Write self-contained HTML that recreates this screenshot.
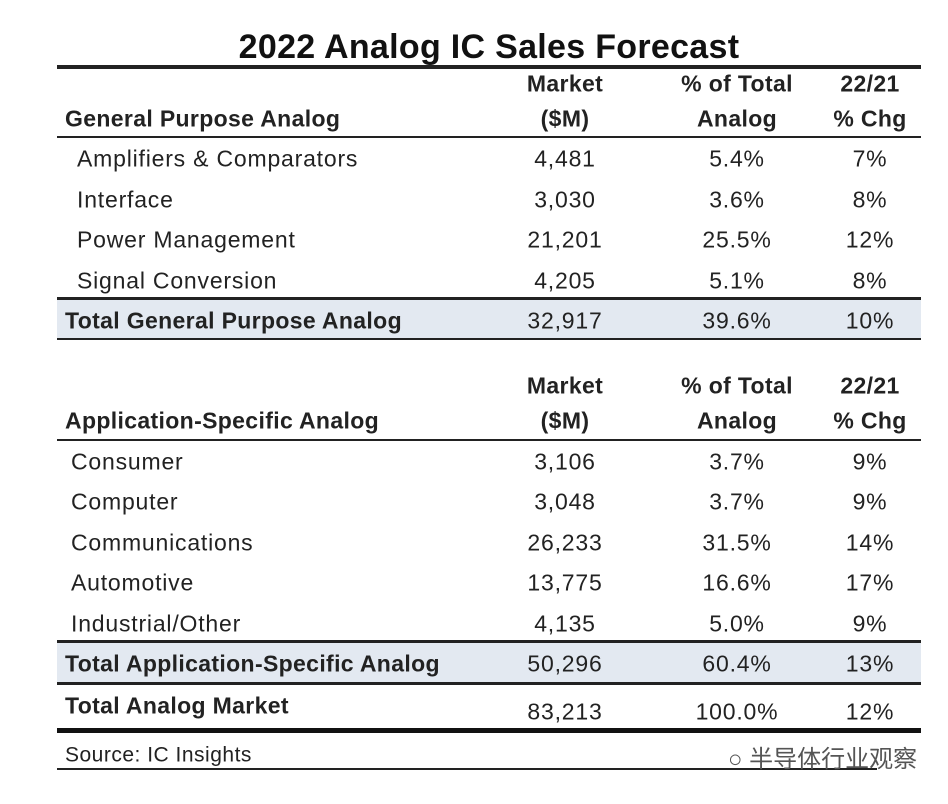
<!DOCTYPE html>
<html><head><style>
body{margin:0;width:948px;height:804px;background:#fff;position:relative;overflow:hidden;font-family:"Liberation Sans","Noto Sans CJK SC",sans-serif;color:#222}
.t{position:absolute;white-space:nowrap;line-height:1;transform:translateY(-50%)}
.c{transform:translate(-50%,-50%)}
.b{font-weight:bold}
.ln{position:absolute;left:57px;width:864px;background:#222}
.sh{position:absolute;left:57px;width:864px;background:#e3e9f1}
.r{font-size:23px;letter-spacing:0.8px}
.r.b{letter-spacing:0.35px}
</style></head><body>
<div class="t c b" style="left:489px;top:47px;font-size:34px;color:#111;letter-spacing:0.3px">2022 Analog IC Sales Forecast</div>
<div class="ln" style="top:65px;height:4px"></div>

<div class="t c b r" style="left:565px;top:84px">Market</div>
<div class="t c b r" style="left:737px;top:84px">% of Total</div>
<div class="t c b r" style="left:870px;top:84px">22/21</div>
<div class="t b r" style="left:65px;top:119px">General Purpose Analog</div>
<div class="t c b r" style="left:565px;top:119px">($M)</div>
<div class="t c b r" style="left:737px;top:119px">Analog</div>
<div class="t c b r" style="left:870px;top:119px">% Chg</div>
<div class="ln" style="top:136px;height:2px"></div>

<div class="t r" style="left:77px;top:159px">Amplifiers &amp; Comparators</div>
<div class="t c r" style="left:565px;top:159px">4,481</div><div class="t c r" style="left:737px;top:159px">5.4%</div><div class="t c r" style="left:870px;top:159px">7%</div>
<div class="t r" style="left:77px;top:200px">Interface</div>
<div class="t c r" style="left:565px;top:200px">3,030</div><div class="t c r" style="left:737px;top:200px">3.6%</div><div class="t c r" style="left:870px;top:200px">8%</div>
<div class="t r" style="left:77px;top:240px">Power Management</div>
<div class="t c r" style="left:565px;top:240px">21,201</div><div class="t c r" style="left:737px;top:240px">25.5%</div><div class="t c r" style="left:870px;top:240px">12%</div>
<div class="t r" style="left:77px;top:281px">Signal Conversion</div>
<div class="t c r" style="left:565px;top:281px">4,205</div><div class="t c r" style="left:737px;top:281px">5.1%</div><div class="t c r" style="left:870px;top:281px">8%</div>
<div class="ln" style="top:297px;height:3px"></div>
<div class="sh" style="top:300px;height:38px"></div>
<div class="t b r" style="left:65px;top:321px">Total General Purpose Analog</div>
<div class="t c r" style="left:565px;top:321px">32,917</div><div class="t c r" style="left:737px;top:321px">39.6%</div><div class="t c r" style="left:870px;top:321px">10%</div>
<div class="ln" style="top:338px;height:2px"></div>

<div class="t c b r" style="left:565px;top:386px">Market</div>
<div class="t c b r" style="left:737px;top:386px">% of Total</div>
<div class="t c b r" style="left:870px;top:386px">22/21</div>
<div class="t b r" style="left:65px;top:421px">Application-Specific Analog</div>
<div class="t c b r" style="left:565px;top:421px">($M)</div>
<div class="t c b r" style="left:737px;top:421px">Analog</div>
<div class="t c b r" style="left:870px;top:421px">% Chg</div>
<div class="ln" style="top:439px;height:2px"></div>

<div class="t r" style="left:71px;top:462px">Consumer</div>
<div class="t c r" style="left:565px;top:462px">3,106</div><div class="t c r" style="left:737px;top:462px">3.7%</div><div class="t c r" style="left:870px;top:462px">9%</div>
<div class="t r" style="left:71px;top:502px">Computer</div>
<div class="t c r" style="left:565px;top:502px">3,048</div><div class="t c r" style="left:737px;top:502px">3.7%</div><div class="t c r" style="left:870px;top:502px">9%</div>
<div class="t r" style="left:71px;top:543px">Communications</div>
<div class="t c r" style="left:565px;top:543px">26,233</div><div class="t c r" style="left:737px;top:543px">31.5%</div><div class="t c r" style="left:870px;top:543px">14%</div>
<div class="t r" style="left:71px;top:583px">Automotive</div>
<div class="t c r" style="left:565px;top:583px">13,775</div><div class="t c r" style="left:737px;top:583px">16.6%</div><div class="t c r" style="left:870px;top:583px">17%</div>
<div class="t r" style="left:71px;top:624px">Industrial/Other</div>
<div class="t c r" style="left:565px;top:624px">4,135</div><div class="t c r" style="left:737px;top:624px">5.0%</div><div class="t c r" style="left:870px;top:624px">9%</div>
<div class="ln" style="top:640px;height:3px"></div>
<div class="sh" style="top:643px;height:39px"></div>
<div class="t b r" style="left:65px;top:664px">Total Application-Specific Analog</div>
<div class="t c r" style="left:565px;top:664px">50,296</div><div class="t c r" style="left:737px;top:664px">60.4%</div><div class="t c r" style="left:870px;top:664px">13%</div>
<div class="ln" style="top:682px;height:3px"></div>
<div class="t b r" style="left:65px;top:706px">Total Analog Market</div>
<div class="t c r" style="left:565px;top:712px">83,213</div><div class="t c r" style="left:737px;top:712px">100.0%</div><div class="t c r" style="left:870px;top:712px">12%</div>
<div class="ln" style="top:728px;height:5px;background:#111"></div>
<div class="t" style="left:65px;top:755px;font-size:21px;letter-spacing:0.5px">Source:  IC Insights</div>
<div class="ln" style="top:768px;height:2px;width:820px"></div>
<div class="t" style="left:728px;top:760px;font-size:24px;color:#555">○ 半导体行业观察</div>
</body></html>
